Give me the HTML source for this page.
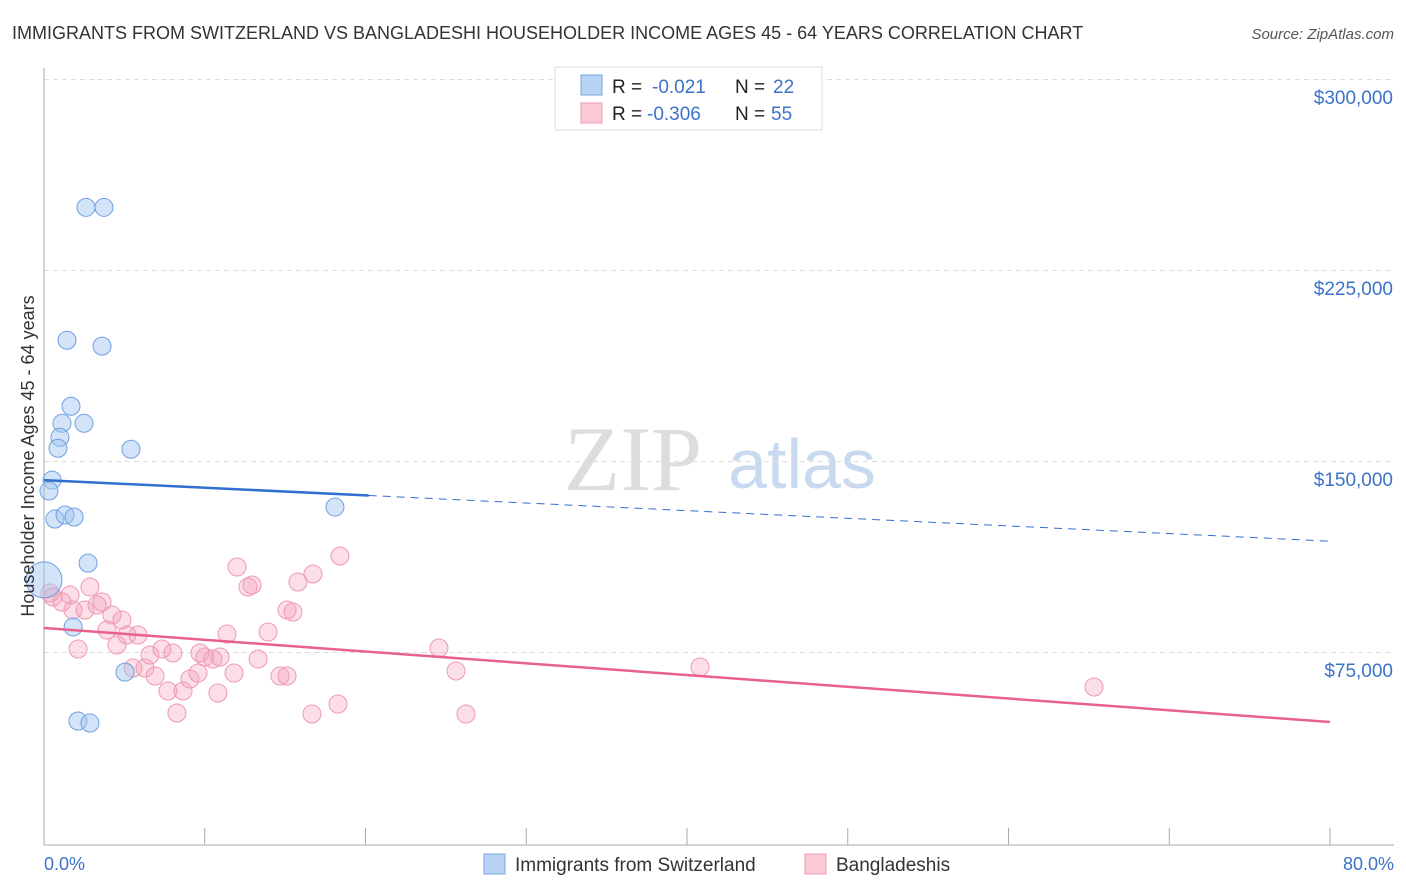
<!DOCTYPE html>
<html><head><meta charset="utf-8"><style>
body{margin:0;background:#fff;font-family:"Liberation Sans",sans-serif;}
svg{display:block}
</style></head><body>
<svg id="chart" width="1406" height="892" xmlns="http://www.w3.org/2000/svg">
<text x="12" y="39" font-size="18" fill="#333">IMMIGRANTS FROM SWITZERLAND VS BANGLADESHI HOUSEHOLDER INCOME AGES 45 - 64 YEARS CORRELATION CHART</text>
<text x="1394" y="39" font-size="15" fill="#555" text-anchor="end" font-style="italic">Source: ZipAtlas.com</text>
<g>
<text x="633" y="490" font-size="92" fill="#ddd" font-family="Liberation Serif,serif" text-anchor="middle">ZIP</text>
<text x="802" y="488" font-size="70" fill="#c9daf0" text-anchor="middle">atlas</text>
</g>
<g id="grid"></g>
<g id="axes"></g>
<g id="marks"></g>
<text transform="translate(34,456) rotate(-90)" font-size="18" fill="#333" text-anchor="middle">Householder Income Ages 45 - 64 years</text>
<text x="44" y="870" font-size="18" fill="#3b73c8">0.0%</text>
<text x="1394" y="870" font-size="18" fill="#3b73c8" text-anchor="end">80.0%</text>
<g>
<rect x="555" y="67" width="267" height="63" fill="#fff" stroke="#ddd"/>
<rect x="581" y="75" width="21" height="20" fill="#b8d3f4" stroke="#7aa6e0"/>
<rect x="581" y="103" width="21" height="20" fill="#f9c9d6" stroke="#ee9ab3"/>
<text x="612" y="93" font-size="19" fill="#222">R = <tspan fill="#3b73c8" x="652">-0.021</tspan><tspan x="735" fill="#222">N = </tspan><tspan fill="#3b73c8" x="773">22</tspan></text>
<text x="612" y="120" font-size="19" fill="#222">R = <tspan fill="#3b73c8" x="647">-0.306</tspan><tspan x="735" fill="#222">N = </tspan><tspan fill="#3b73c8" x="771">55</tspan></text>
</g>
<g>
<rect x="484" y="854" width="21" height="20" fill="#b8d3f4" stroke="#7aa6e0"/>
<text x="515" y="871" font-size="19" fill="#333">Immigrants from Switzerland</text>
<rect x="805" y="854" width="21" height="20" fill="#f9c9d6" stroke="#ee9ab3"/>
<text x="836" y="871" font-size="19" fill="#333">Bangladeshis</text>
</g>
</svg>
<script>
const yTicks=[75000,150000,225000,300000];
const yTickLabels=["$75,000","$150,000","$225,000","$300,000"];
const xTicks=[0,10,20,30,40,50,60,70,80];
const swissX=[2.61,3.73,1.43,3.61,1.68,2.49,1.12,0.99,0.87,5.41,0.50,0.31,0.68,1.31,1.87,18.10,2.74,0.0,1.81,5.04,2.11,2.86];
const swissY=[250000,250000,197800,195500,171900,165200,165200,159700,155400,155000,142900,138600,127600,129200,128400,132300,110300,103700,85200,67500,48300,47500];
const bangX=[0.37,0.56,1.62,1.12,2.86,1.80,2.55,3.30,3.61,4.23,4.85,3.92,5.16,5.85,4.54,2.12,5.54,6.28,6.59,7.34,8.02,6.91,7.71,8.65,9.08,9.58,9.70,10.01,10.51,10.95,11.38,11.82,10.82,8.27,13.32,13.94,14.68,15.12,16.67,18.29,12.01,12.69,12.94,15.12,15.49,15.80,16.73,18.41,24.57,25.63,26.25,40.81,65.32];
const bangY=[98560,96990,97775,95026,100916,91885,91885,93848,95026,89921,87958,84031,82068,82068,78141,76571,69110,69110,74215,76571,75000,65969,60079,60079,64791,67147,75000,73429,72644,73429,82461,67147,59293,51440,72644,83246,65969,65969,51047,54974,108770,100916,101702,91885,91099,102880,106021,113089,76963,67932,51047,69503,61649];
const trendSwiss=[142900,118900];
const trendBang=[84800,47900];
const x=v=>44+v/80*1286, y=v=>653-(v-75000)/75000*191;
const NS="http://www.w3.org/2000/svg";
function mk(t,a,p){const e=document.createElementNS(NS,t);for(const k in a)e.setAttribute(k,a[k]);p.appendChild(e);return e;}
const grid=document.getElementById('grid'),axes=document.getElementById('axes'),marks=document.getElementById('marks');
yTicks.forEach((t,i)=>{
 const l=mk('line',{x1:44,x2:1394,y1:y(t)-0.5,y2:y(t)-0.5,stroke:'#ddd','stroke-dasharray':'5,4'},grid);
 
 
 const tx=mk('text',{x:1393,y:y(t)+24,'font-size':19,fill:'#3b73c8','text-anchor':'end'},axes);
 tx.textContent=yTickLabels[i];
 
 
});
const ax=mk('line',{x1:44,x2:1394,y1:845,y2:845,stroke:'#aaa'},axes);


const ay=mk('line',{x1:44,x2:44,y1:68,y2:845,stroke:'#aaa'},axes);


xTicks.forEach(t=>{const l=mk('line',{x1:x(t),x2:x(t),y1:828,y2:845,stroke:'#aaa'},axes);
 
 });
bangX.forEach((v,i)=>{const c=mk('circle',{cx:x(v),cy:y(bangY[i]),r:9,fill:'rgba(244,160,185,0.35)',stroke:'#ee9ab3','stroke-width':1},marks);
 
 });
swissX.forEach((v,i)=>{const c=mk('circle',{cx:x(v),cy:y(swissY[i]),r:i==17?18:9,fill:'rgba(160,195,240,0.45)',stroke:'#6f9fe0','stroke-width':1},marks);
 
 });
const sx=20.2, sy=trendSwiss[0]+(trendSwiss[1]-trendSwiss[0])*sx/80;
const t1=mk('line',{x1:x(0),y1:y(trendSwiss[0]),x2:x(sx),y2:y(sy),stroke:'#2f6fd0','stroke-width':2.5},marks);


const t2=mk('line',{x1:x(sx),y1:y(sy),x2:x(80),y2:y(trendSwiss[1]),stroke:'#2f6fd0','stroke-width':1,'stroke-dasharray':'8,6'},marks);


const t3=mk('line',{x1:x(0),y1:y(trendBang[0]),x2:x(80),y2:y(trendBang[1]),stroke:'#e8608c','stroke-width':2.5},marks);


</script>
</body></html>
